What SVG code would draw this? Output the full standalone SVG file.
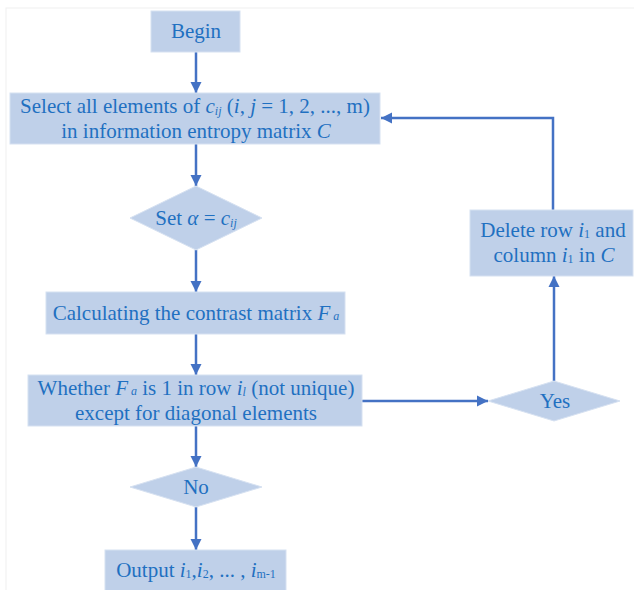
<svg xmlns="http://www.w3.org/2000/svg" width="634" height="590" viewBox="0 0 634 590">
<style>
.box{fill:#BFD0E9;stroke:#D6E1F1;stroke-width:1}
.t{font-family:"Liberation Serif","Times New Roman",serif;font-size:21px;fill:#1F70C1;text-anchor:middle}
.i{font-style:italic}
.s{font-size:12px}
.c{fill:none;stroke:#4472C4;stroke-width:2.5}
</style>
<defs>
<marker id="ah" markerUnits="userSpaceOnUse" markerWidth="12" markerHeight="12" viewBox="0 0 12 12" refX="11" refY="6" orient="auto">
<path d="M0,0.5 L11,6 L0,11.5 Z" fill="#4472C4"/>
</marker>
</defs>
<rect x="6" y="8" width="640" height="600" fill="none" stroke="#F0F0F0" stroke-width="1"/>
<g id="connectors">
<line class="c" x1="196" y1="52" x2="196" y2="93" marker-end="url(#ah)"/>
<line class="c" x1="196" y1="144" x2="196" y2="186" marker-end="url(#ah)"/>
<line class="c" x1="196" y1="250" x2="196" y2="292" marker-end="url(#ah)"/>
<line class="c" x1="196" y1="334" x2="196" y2="375" marker-end="url(#ah)"/>
<line class="c" x1="362" y1="401" x2="488" y2="401" marker-end="url(#ah)"/>
<line class="c" x1="554" y1="381" x2="554" y2="276" marker-end="url(#ah)"/>
<polyline class="c" points="553,210 553,118 381,118" marker-end="url(#ah)"/>
<line class="c" x1="196" y1="426" x2="196" y2="467" marker-end="url(#ah)"/>
<line class="c" x1="196" y1="507" x2="196" y2="550" marker-end="url(#ah)"/>
</g>
<g id="begin">
<rect class="box" x="151" y="11" width="89" height="41"/>
<text class="t" x="196" y="38">Begin</text>
</g>
<g id="select">
<rect class="box" x="10" y="93" width="370" height="51"/>
<text class="t" x="195" y="113">Select all elements of <tspan class="i">c</tspan><tspan class="i s" dy="2">ij</tspan><tspan dy="-2"> (</tspan><tspan class="i">i</tspan>, <tspan class="i">j</tspan> = 1, 2, ..., m)</text>
<text class="t" x="196" y="138">in information entropy matrix <tspan class="i">C</tspan></text>
</g>
<g id="set">
<polygon class="box" points="196,186 262,218 196,250 130,218"/>
<text class="t" x="196" y="225">Set  <tspan class="i">α</tspan> = <tspan class="i">c</tspan><tspan class="i s" dy="2">ij</tspan></text>
</g>
<g id="calc">
<rect class="box" x="46" y="292" width="299" height="42"/>
<text class="t" x="196" y="320">Calculating the contrast matrix <tspan class="i">F</tspan><tspan class="i s"> a</tspan></text>
</g>
<g id="whether">
<rect class="box" x="28" y="375" width="334" height="51"/>
<text class="t" x="196" y="395">Whether <tspan class="i">F</tspan><tspan class="i s"> a</tspan> is 1 in row <tspan class="i">i</tspan><tspan class="i s" dy="1">l</tspan><tspan dy="-1"> (not unique)</tspan></text>
<text class="t" x="196" y="420">except for diagonal elements</text>
</g>
<g id="yes">
<polygon class="box" points="554,381 620,401 554,421 488,401"/>
<text class="t" x="555" y="408">Yes</text>
</g>
<g id="delete">
<rect class="box" x="470" y="210" width="163" height="66"/>
<text class="t" x="553" y="237">Delete row <tspan class="i">i</tspan><tspan class="s" dy="1">1</tspan><tspan dy="-1"> and</tspan></text>
<text class="t" x="554" y="262">column <tspan class="i">i</tspan><tspan class="s" dy="1">1</tspan><tspan dy="-1"> in </tspan><tspan class="i">C</tspan></text>
</g>
<g id="no">
<polygon class="box" points="196,467 262,487 196,507 130,487"/>
<text class="t" x="196" y="494">No</text>
</g>
<g id="output">
<rect class="box" x="105" y="550" width="181" height="42"/>
<text class="t" x="196" y="577">Output <tspan class="i">i</tspan><tspan class="s" dy="1">1</tspan><tspan dy="-1">,</tspan><tspan class="i">i</tspan><tspan class="s" dy="1">2</tspan><tspan dy="-1">, ... , </tspan><tspan class="i">i</tspan><tspan class="s" dy="1">m-1</tspan></text>
</g>
</svg>
